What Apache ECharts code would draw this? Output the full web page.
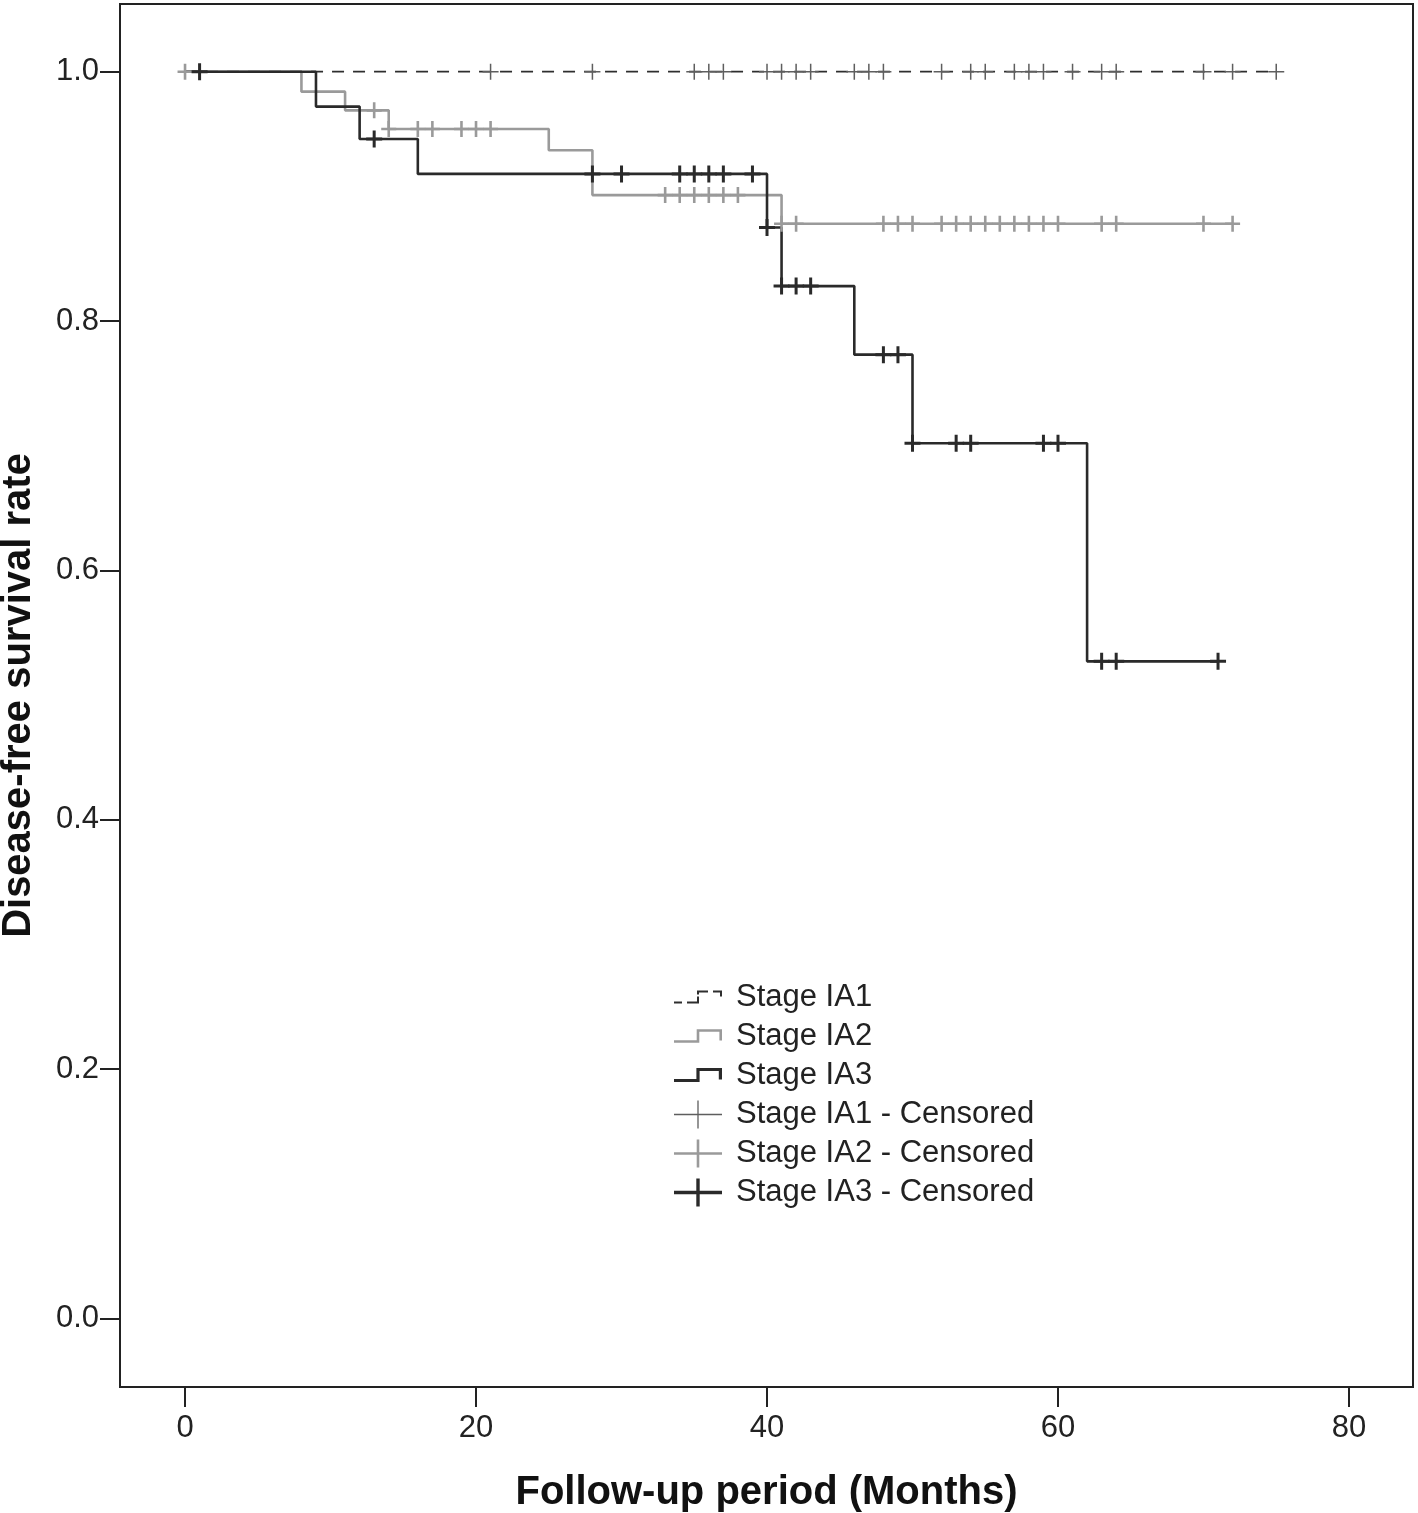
<!DOCTYPE html>
<html>
<head>
<meta charset="utf-8">
<script src="https://cdn.jsdelivr.net/npm/echarts@6/dist/echarts.min.js"></script>
<style>
  html, body { margin: 0; padding: 0; background: #fff; }
  #chart { width: 1418px; height: 1513px; }
</style>
</head>
<body>
<div id="chart"></div>
<script>
// ---- Data ----
const seriesNames = ['Stage IA1', 'Stage IA2', 'Stage IA3'];
const xTicks = [0, 20, 40, 60, 80];
const yTicks = [0, 0.2, 0.4, 0.6, 0.8, 1.0];

// Kaplan-Meier step points: [month, survival after the event]
const ia1Curve = [[0, 1], [75, 1]];
const ia2Curve = [[0, 1], [8, 0.984], [11, 0.969], [14, 0.954], [25, 0.937], [28, 0.901], [41, 0.878], [72, 0.878]];
const ia3Curve = [[0, 1], [9, 0.972], [12, 0.946], [16, 0.918], [40, 0.875], [41, 0.828], [46, 0.773], [50, 0.702], [62, 0.527], [71, 0.527]];

// Censored observations: [month, survival level]
const ia1Censored = [[21, 1], [28, 1], [35, 1], [36, 1], [37, 1], [40, 1], [41, 1], [42, 1], [43, 1],
  [46, 1], [47, 1], [48, 1], [52, 1], [54, 1], [55, 1], [57, 1], [58, 1], [59, 1], [61, 1],
  [63, 1], [64, 1], [70, 1], [72, 1], [75, 1]];
const ia2Censored = [[0, 1], [13, 0.969], [14, 0.954], [16, 0.954], [17, 0.954], [19, 0.954], [20, 0.954], [21, 0.954],
  [33, 0.901], [34, 0.901], [35, 0.901], [36, 0.901], [37, 0.901], [38, 0.901],
  [41, 0.878], [42, 0.878], [48, 0.878], [49, 0.878], [50, 0.878], [52, 0.878], [53, 0.878], [54, 0.878],
  [55, 0.878], [56, 0.878], [57, 0.878], [58, 0.878], [59, 0.878], [60, 0.878], [63, 0.878], [64, 0.878],
  [70, 0.878], [72, 0.878]];
const ia3Censored = [[1, 1], [13, 0.946], [28, 0.918], [30, 0.918], [34, 0.918], [35, 0.918], [36, 0.918], [37, 0.918], [39, 0.918],
  [40, 0.875], [41, 0.828], [42, 0.828], [43, 0.828], [48, 0.773], [49, 0.773],
  [50, 0.702], [53, 0.702], [54, 0.702], [59, 0.702], [60, 0.702], [63, 0.527], [64, 0.527], [71, 0.527]];

// ---- Symbol helpers ----
function plus(w, h, t) {
  const a = (w - t) / 2, b = (w + t) / 2, c = (h - t) / 2, d = (h + t) / 2;
  return `path://M${a},0 H${b} V${c} H${w} V${d} H${b} V${h} H${a} V${d} H0 V${c} H${a} Z`;
}
function rect(x, y, w, h) { return `M${x},${y} H${x + w} V${y + h} H${x} Z `; }
const corners = 'M0,0 L0.01,0 L0,0.01 Z M48,28 L47.99,28 L48,27.99 Z ';
function stepIcon(t) {
  const h = t / 2, yb = 19, yt = 8, xv = 24, xr = 48 - h;
  return 'path://' + corners +
    `M0,${yb - h} H${xv - h} V${yt - h} H${xr + h} V${yb - 1} H${xr - h} V${yt + h} H${xv + h} V${yb + h} H0 Z`;
}
function dashedStepIcon() {
  return 'path://' + corners + rect(0, 18, 8, 2) + rect(13, 18, 12, 2) + rect(23, 13, 2, 7) +
    rect(23, 7, 2, 4) + rect(23, 7, 11, 2) + rect(39, 7, 9, 2) + rect(46, 7, 2, 6);
}

const colIA1 = '#2e2e2e', colIA2 = '#9a9a9a', colIA3 = '#2a2a2a', colIA1c = '#5e5e5e';
const fontFam = "'Liberation Sans', Arial, Helvetica, sans-serif";

const chart = echarts.init(document.getElementById('chart'), null, { renderer: 'canvas' });

const option = {
  backgroundColor: '#ffffff',
  animation: false,
  grid: {
    left: 120, right: 5, top: 4, bottom: 126,
    containLabel: false, outerBoundsMode: 'none',
    show: true, borderColor: '#222', borderWidth: 2, backgroundColor: 'transparent'
  },
  xAxis: {
    type: 'value', min: -4.47, max: 84.4,
    axisLine: { show: true, onZero: false, lineStyle: { color: '#222', width: 2 } },
    axisTick: { show: true, inside: false, length: 20, lineStyle: { color: '#222', width: 2 }, customValues: xTicks },
    axisLabel: { margin: 26, fontSize: 31, color: '#222', fontFamily: fontFam, customValues: xTicks,
      formatter: v => String(Math.round(v)) },
    splitLine: { show: false },
    name: 'Follow-up period (Months)', nameLocation: 'middle', nameGap: 86,
    nameTextStyle: { fontSize: 40, fontWeight: 'bold', color: '#111', fontFamily: fontFam, lineHeight: 40 }
  },
  yAxis: {
    type: 'value', min: -0.0551, max: 1.0543,
    axisLine: { show: true, onZero: false, lineStyle: { color: '#222', width: 2 } },
    axisTick: { show: true, inside: false, length: 20, lineStyle: { color: '#222', width: 2 }, customValues: yTicks },
    axisLabel: { margin: 21, fontSize: 31, color: '#222', fontFamily: fontFam, customValues: yTicks,
      formatter: v => v.toFixed(1) },
    splitLine: { show: false },
    name: 'Disease-free survival rate', nameLocation: 'middle', nameGap: 81,
    nameTextStyle: { fontSize: 40, fontWeight: 'bold', color: '#111', fontFamily: fontFam, lineHeight: 40 }
  },
  legend: {
    orient: 'vertical', left: 674, top: 982, padding: 0,
    itemWidth: 48, itemHeight: 28, itemGap: 8, selectedMode: false,
    itemStyle: { borderWidth: 0 },
    textStyle: { fontSize: 31, color: '#222', fontFamily: fontFam, lineHeight: 28, padding: [0, 0, 0, 9] },
    data: [
      { name: 'Stage IA1', icon: dashedStepIcon() },
      { name: 'Stage IA2', icon: stepIcon(2.6) },
      { name: 'Stage IA3', icon: stepIcon(3.2) },
      { name: 'Stage IA1 - Censored', icon: plus(48, 28, 1.3) },
      { name: 'Stage IA2 - Censored', icon: plus(48, 28, 2.6) },
      { name: 'Stage IA3 - Censored', icon: plus(48, 28, 3.4) }
    ]
  },
  series: [
    { name: seriesNames[0], type: 'line', step: 'end', data: ia1Curve, showSymbol: false, z: 2,
      itemStyle: { color: colIA1 }, lineStyle: { color: colIA1, width: 1.8, type: [12, 9] } },
    { name: seriesNames[1], type: 'line', step: 'end', data: ia2Curve, showSymbol: false, z: 3,
      itemStyle: { color: colIA2 }, lineStyle: { color: colIA2, width: 2.6 } },
    { name: seriesNames[2], type: 'line', step: 'end', data: ia3Curve, showSymbol: false, z: 4,
      itemStyle: { color: colIA3 }, lineStyle: { color: colIA3, width: 2.6 } },
    { name: seriesNames[0] + ' - Censored', type: 'scatter', data: ia1Censored, z: 5,
      symbol: plus(16, 16, 1.5), symbolSize: [16, 16], itemStyle: { color: colIA1c, opacity: 1 } },
    { name: seriesNames[1] + ' - Censored', type: 'scatter', data: ia2Censored, z: 5,
      symbol: plus(15, 16, 2.6), symbolSize: [15, 16], itemStyle: { color: colIA2, opacity: 1 } },
    { name: seriesNames[2] + ' - Censored', type: 'scatter', data: ia3Censored, z: 6,
      symbol: plus(16, 17, 3), symbolSize: [16, 17], itemStyle: { color: colIA3, opacity: 1 } }
  ]
};
chart.setOption(option);
</script>
</body>
</html>
